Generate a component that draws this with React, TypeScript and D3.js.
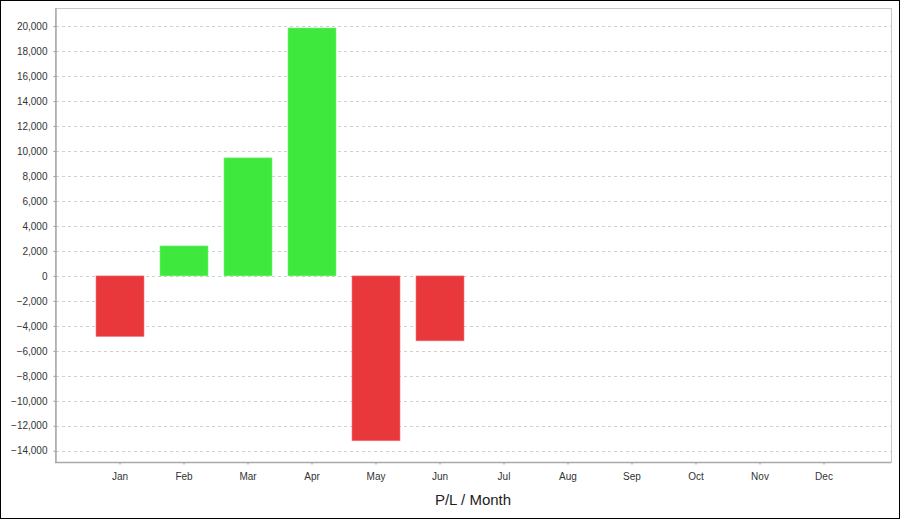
import React, { useEffect, useRef } from 'react'
import * as d3 from 'd3'

const months = ['Jan', 'Feb', 'Mar', 'Apr', 'May', 'Jun', 'Jul', 'Aug', 'Sep', 'Oct', 'Nov', 'Dec']
const profitLoss = [-4850, 2400, 9450, 19850, -13200, -5200]
const yTicks = d3.range(-14000, 20001, 2000)
const yDomain = [-14900, 21450]
const chartTitle = 'P/L / Month'

const W = 900
const H = 519
const plot = { left: 55, top: 8, right: 891, bottom: 462 }

const draw = (el: SVGSVGElement) => {
    const svg = d3.select(el)
    svg.selectAll('*').remove()

    // outer frame
    svg.append('rect')
        .attr('x', 0.5).attr('y', 0.5)
        .attr('width', W - 1).attr('height', H - 1)
        .attr('fill', '#fff').attr('stroke', '#000')

    const x = d3.scaleBand()
        .domain(months)
        .range([plot.left + 33, plot.right - 35])
        .paddingInner(0.25)
        .paddingOuter(0.125)

    const y = d3.scaleLinear().domain(yDomain).range([plot.bottom, plot.top])

    // plot background + outline
    svg.append('rect')
        .attr('x', plot.left + 0.5).attr('y', plot.top + 0.5)
        .attr('width', plot.right - plot.left).attr('height', plot.bottom - plot.top)
        .attr('fill', '#fff').attr('stroke', '#c8c8c8')

    // horizontal grid
    svg.append('g')
        .selectAll('line')
        .data(yTicks)
        .join('line')
        .attr('x1', plot.left + 1).attr('x2', plot.right)
        .attr('y1', d => Math.round(y(d)) + 0.5).attr('y2', d => Math.round(y(d)) + 0.5)
        .attr('stroke', '#d0d0d0')
        .attr('stroke-dasharray', '3,3')

    // bars
    svg.append('g')
        .selectAll('rect')
        .data(profitLoss)
        .join('rect')
        .attr('x', (d, i) => x(months[i]))
        .attr('width', x.bandwidth())
        .attr('y', d => y(Math.max(0, d)))
        .attr('height', d => Math.abs(y(d) - y(0)))
        .attr('fill', d => (d >= 0 ? '#3ee83c' : '#e8383c'))
        .attr('stroke', d => (d >= 0 ? '#7ef07c' : '#f07a7c'))
        .attr('stroke-width', 0.6)

    // y axis
    const yAxis = svg.append('g')
        .attr('transform', `translate(${plot.left + 0.5},0)`)
        .call(d3.axisLeft(y).tickValues(yTicks).tickSize(2).tickSizeOuter(0).tickPadding(6).tickFormat(d3.format(',')))
    yAxis.select('.domain').attr('stroke', '#a8a8a8').attr('stroke-width', 1.5)
    yAxis.selectAll('.tick line').attr('stroke', '#999')
    yAxis.selectAll('text')
        .attr('fill', '#333')
        .style('font-family', '"Liberation Sans", Arial, sans-serif')
        .style('font-size', '10px')

    // x axis
    const xAxis = svg.append('g')
        .attr('transform', `translate(0,${plot.bottom + 0.5})`)
        .call(d3.axisBottom(x).tickSize(2).tickPadding(8).tickSizeOuter(0))
    xAxis.select('.domain').attr('stroke', '#a8a8a8').attr('stroke-width', 1.5)
        .attr('d', `M${plot.left},0H${plot.right}`)
    xAxis.selectAll('.tick line').attr('stroke', '#999')
    xAxis.selectAll('text')
        .attr('fill', '#333')
        .style('font-family', '"Liberation Sans", Arial, sans-serif')
        .style('font-size', '10px')

    svg.append('text')
        .attr('x', (plot.left + plot.right) / 2)
        .attr('y', 505)
        .attr('text-anchor', 'middle')
        .attr('fill', '#222')
        .style('font-family', '"Liberation Sans", Arial, sans-serif')
        .style('font-size', '15px')
        .text(chartTitle)
}

export default function App() {
    const ref = useRef<SVGSVGElement>(null)
    useEffect(() => {
        if (ref.current) draw(ref.current)
    }, [])
    return (
        <svg
            ref={ref}
            width={W}
            height={H}
            style={{ position: 'absolute', left: 0, top: 0, display: 'block' }}
        />
    )
}
